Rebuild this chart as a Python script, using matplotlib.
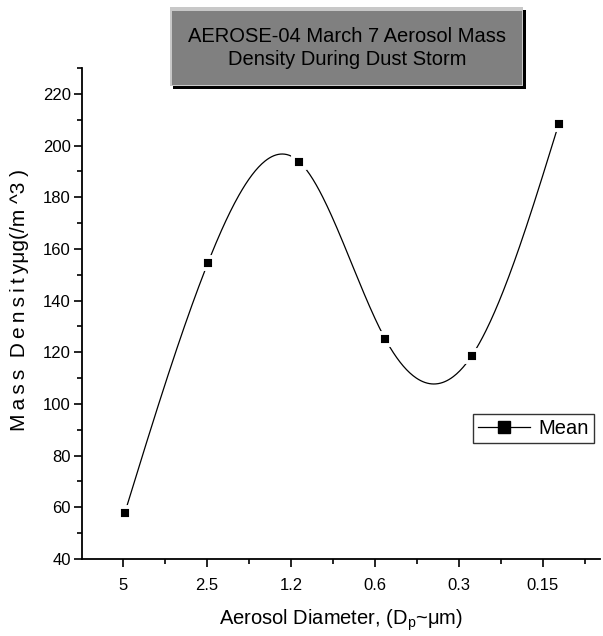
import numpy as np
import matplotlib
matplotlib.use("Agg")
import matplotlib.pyplot as plt
from matplotlib.patches import Rectangle
from matplotlib.lines import Line2D
from matplotlib.ticker import MultipleLocator, FixedLocator

plt.rcParams["font.family"] = ["Liberation Sans", "DejaVu Sans"]

# data
diam_labels = ["5", "2.5", "1.2", "0.6", "0.3", "0.15"]
diam_pos = [1.02, 2.01, 3.10, 4.12, 5.15, 6.19]
mass_mean = [57.7, 154.5, 193.7, 125.3, 118.5, 208.5]

W, H = 603, 636


def fx(px):
    return px / W


def fy(py):
    return 1 - py / H


def natural_spline(x, y, n=400):
    # smooth connecting curve (Origin "spline" line style)
    x = np.asarray(x, float)
    y = np.asarray(y, float)
    k = len(x)
    h = np.diff(x)
    A = np.zeros((k, k))
    b = np.zeros(k)
    A[0, 0] = A[-1, -1] = 1
    for i in range(1, k - 1):
        A[i, i - 1] = h[i - 1]
        A[i, i] = 2 * (h[i - 1] + h[i])
        A[i, i + 1] = h[i]
        b[i] = 6 * ((y[i + 1] - y[i]) / h[i] - (y[i] - y[i - 1]) / h[i - 1])
    M = np.linalg.solve(A, b)
    xs = np.linspace(x[0], x[-1], n)
    idx = np.clip(np.searchsorted(x, xs) - 1, 0, k - 2)
    x0, x1 = x[idx], x[idx + 1]
    hh = x1 - x0
    t0, t1 = x1 - xs, xs - x0
    ys = (M[idx] * t0 ** 3 + M[idx + 1] * t1 ** 3) / (6 * hh) \
        + (y[idx] / hh - M[idx] * hh / 6) * t0 \
        + (y[idx + 1] / hh - M[idx + 1] * hh / 6) * t1
    return xs, ys


fig = plt.figure(figsize=(W / 100, H / 100), dpi=100)
ax = fig.add_axes([fx(82), fy(559), fx(600) - fx(82), fy(68) - fy(559)])

xs, ys = natural_spline(diam_pos, mass_mean)
ax.plot(xs, ys, color="black", lw=0.9, zorder=2)
ax.plot(diam_pos, mass_mean, ls="none", marker="s", ms=8.6, mfc="black",
        mec="white", mew=2.8, zorder=3)

ax.set_xlim(0.512, 6.68)
ax.set_ylim(40, 230)
ax.xaxis.set_major_locator(FixedLocator([1, 2, 3, 4, 5, 6]))
ax.set_xticklabels(diam_labels)
ax.xaxis.set_minor_locator(FixedLocator([0.5, 1.5, 2.5, 3.5, 4.5, 5.5, 6.5]))
ax.yaxis.set_major_locator(MultipleLocator(20))
ax.yaxis.set_minor_locator(MultipleLocator(10))

for s in ["top", "right"]:
    ax.spines[s].set_visible(False)
for s in ["left", "bottom"]:
    ax.spines[s].set_linewidth(1.3)

ax.tick_params(axis="both", which="major", direction="out", length=6,
               width=1.2, labelsize=12)
ax.tick_params(axis="both", which="minor", direction="out", length=3.5,
               width=1.2)
ax.tick_params(axis="x", which="major", pad=8)
ax.tick_params(axis="y", which="major", pad=2)

ax.set_xlabel("Aerosol Diameter, (D$_\\mathregular{p}$~\u03bcm)", fontsize=14.5,
              labelpad=10)
ylab = "M\u2009a\u2009s\u2009s  D\u2009e\u2009n\u2009s\u2009i\u2009t\u2009y\u03bcg(/m ^3 )"
fig.text(fx(20), fy(300), ylab, rotation=90, fontsize=15, ha="center",
         va="center")

# legend box
handle = Line2D([], [], color="black", lw=0.9, marker="s", ms=8, mfc="black",
                mec="black")
leg = fig.legend([handle], ["Mean"], loc="upper left",
                 bbox_to_anchor=(fx(473), fy(414)), fontsize=14.5,
                 frameon=True, fancybox=False, edgecolor="black",
                 handlelength=2.6, borderpad=0.25, borderaxespad=0,
                 handletextpad=0.4)
leg.get_frame().set_linewidth(1.0)

# title box with bevel
fig.patches.append(Rectangle((fx(173), fy(89)), fx(526) - fx(173),
                             fy(10) - fy(89), transform=fig.transFigure,
                             facecolor="black", edgecolor="none"))
fig.patches.append(Rectangle((fx(170), fy(86)), fx(523) - fx(170),
                             fy(7) - fy(86), transform=fig.transFigure,
                             facecolor="#c8c8c8", edgecolor="none"))
fig.patches.append(Rectangle((fx(172), fy(85)), fx(522) - fx(172),
                             fy(11) - fy(85), transform=fig.transFigure,
                             facecolor="#808080", edgecolor="none"))
fig.text(fx(347), fy(48), "AEROSE-04 March 7 Aerosol Mass\nDensity During Dust Storm",
         ha="center", va="center", fontsize=14.5, linespacing=1.3)

fig.savefig("out.png", dpi=100)
